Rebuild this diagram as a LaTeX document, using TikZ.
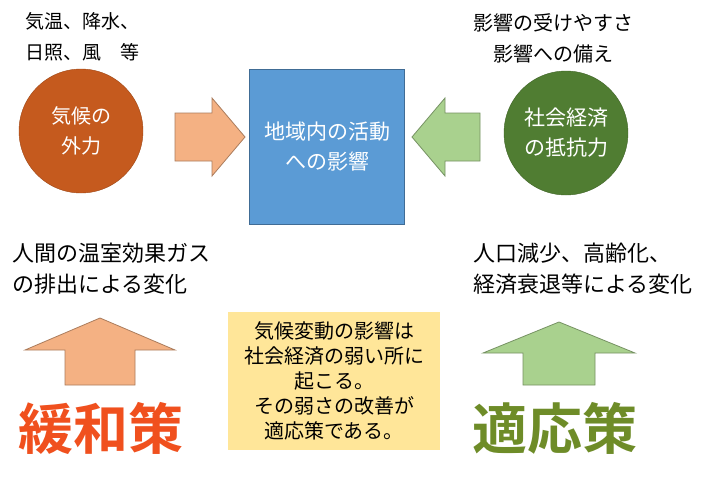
\documentclass[tikz,border=0pt]{standalone}
\usepackage{fontspec}
\newfontfamily\jp{Noto Sans CJK JP}
\newfontfamily\jpb{Noto Sans CJK JP Bold}
\usetikzlibrary{shapes.arrows}
\definecolor{corange}{RGB}{197,90,30}
\definecolor{cgreen}{RGB}{80,125,50}
\definecolor{cblue}{RGB}{91,155,213}
\definecolor{aorange}{RGB}{244,177,131}
\definecolor{agreen}{RGB}{169,209,142}
\definecolor{cyellow}{RGB}{255,230,153}
\tikzset{
 circ/.style={circle,minimum size=124pt,inner sep=0pt,text=white,align=center,font=\jp\fontsize{20}{30}\selectfont},
 lbl/.style={align=left,font=\jp\fontsize{19}{31}\selectfont,inner sep=0pt},
 lblb/.style={align=left,font=\jp\fontsize{22}{31}\selectfont,inner sep=0pt},
 blockarrow/.style={line width=0.8pt}
}
\begin{document}
\begin{tikzpicture}[x=1pt,y=-1pt]
\useasboundingbox (0,0) rectangle (710,477);
\fill[white] (0,0) rectangle (710,477);
\node[circ,fill=corange,draw=corange!80!black] (c1) at (81,131) {気候の\\外力};
\node[circ,fill=cgreen,draw=cgreen!80!black,font=\jp\fontsize{21}{30}\selectfont] (c2) at (566,133) {社会経済\\の抵抗力};
\node[fill=cblue,draw=cblue!70!black,minimum width=155pt,minimum height=155pt,inner sep=0pt,align=center,text=white,font=\jp\fontsize{21}{30}\selectfont] (b) at (327,147) {地域内の活動\\への影響};
\draw[blockarrow,fill=aorange,draw=aorange!70!black] (175,113)--(212,113)--(212,98)--(245,137)--(212,176)--(212,161)--(175,161)--cycle;
\draw[blockarrow,fill=agreen,draw=agreen!70!black] (480,113)--(445,113)--(445,98)--(412,137)--(445,176)--(445,161)--(480,161)--cycle;
\draw[blockarrow,fill=aorange,draw=aorange!70!black] (65,385)--(65,350)--(25,350)--(100,318)--(175,350)--(135,350)--(135,385)--cycle;
\draw[blockarrow,fill=agreen,draw=agreen!70!black] (523,385)--(523,353)--(483,353)--(559,322)--(635,353)--(595,353)--(595,385)--cycle;
\node[fill=cyellow,minimum width=212pt,minimum height=138pt,inner sep=0pt,align=center,font=\jp\fontsize{20}{25}\selectfont] (y) at (334,381) {気候変動の影響は\\社会経済の弱い所に\\起こる。\\その弱さの改善が\\適応策である。};
\node[lbl,anchor=north west] (t1) at (25,12) {気温、降水、\\日照、風　等};
\node[lbl,font=\jp\fontsize{20}{31}\selectfont,align=center,anchor=north] (t2) at (553,13) {影響の受けやすさ\\影響への備え};
\node[lblb,anchor=north west] (t3) at (12,243) {人間の温室効果ガス\\の排出による変化};
\node[lblb,anchor=north west] (t4) at (473,243) {人口減少、高齢化、\\経済衰退等による変化};
\node[font=\jpb\fontsize{55}{55}\selectfont,text={rgb,255:red,240;green,80;blue,30}] (m1) at (101,428) {緩和策};
\node[font=\jpb\fontsize{55}{55}\selectfont,text={rgb,255:red,110;green,140;blue,40}] (m2) at (555,428) {適応策};
\end{tikzpicture}
\end{document}
